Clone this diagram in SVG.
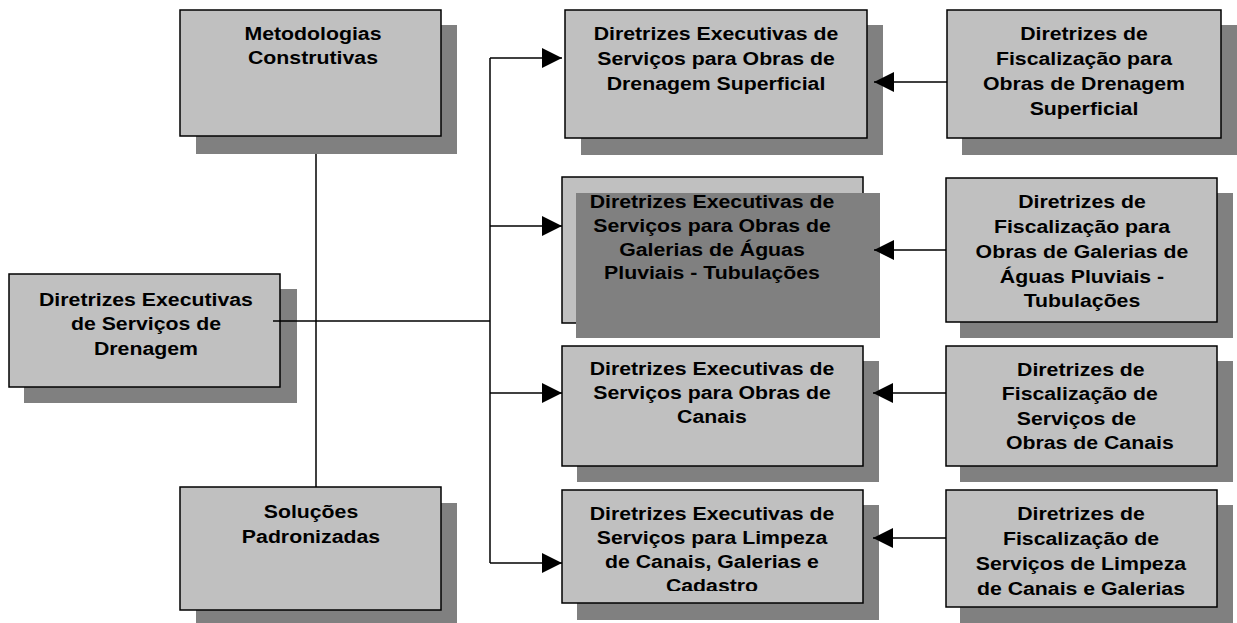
<svg xmlns="http://www.w3.org/2000/svg" width="1237" height="623" viewBox="0 0 1237 623">
<style>
.sh{fill:#808080}
.bx{fill:#c0c0c0;stroke:#000;stroke-width:1.5}
.t{font-family:"Liberation Sans",Arial,sans-serif;font-weight:bold;font-size:19px;fill:#000;text-anchor:middle}
.c{fill:none;stroke:#000;stroke-width:1.5}
</style>
<defs>
<marker id="ah" markerUnits="userSpaceOnUse" markerWidth="22" markerHeight="22" refX="20" refY="10" orient="auto">
<path d="M0,0 L20,10 L0,20 Z" fill="#000"/>
</marker>
<clipPath id="clip5"><rect x="562" y="490" width="301" height="101"/></clipPath>
</defs>
<rect width="1237" height="623" fill="#fff"/>

<g id="metodologias">
<rect class="sh" x="196" y="25" width="261" height="129"/>
<rect class="bx" x="180" y="10" width="261" height="126"/>
<text class="t" transform="matrix(1.12 0 0 1 -37.56 0)"><tspan x="313" y="40">Metodologias</tspan><tspan x="313" y="64">Construtivas</tspan></text>
</g>

<g id="solucoes">
<rect class="sh" x="196" y="503" width="261" height="120"/>
<rect class="bx" x="180" y="487" width="261" height="123"/>
<text class="t" transform="matrix(1.12 0 0 1 -37.32 0)"><tspan x="311" y="518">Soluções</tspan><tspan x="311" y="543">Padronizadas</tspan></text>
</g>

<g id="drenagem">
<rect class="sh" x="24" y="289" width="273" height="114"/>
<rect class="bx" x="9" y="274" width="271" height="113"/>
<text class="t" transform="matrix(1.12 0 0 1 -17.52 0)"><tspan x="146" y="306">Diretrizes Executivas</tspan><tspan x="146" y="330">de Serviços de</tspan><tspan x="146" y="355">Drenagem</tspan></text>
</g>

<g id="exec-superficial">
<rect class="sh" x="581" y="25" width="302" height="130"/>
<rect class="bx" x="565" y="10" width="302" height="128"/>
<text class="t" transform="matrix(1.12 0 0 1 -85.92 0)"><tspan x="716" y="40">Diretrizes Executivas de</tspan><tspan x="716" y="65">Serviços para Obras de</tspan><tspan x="716" y="90">Drenagem Superficial</tspan></text>
</g>

<g id="exec-galerias">
<rect class="bx" x="562" y="177" width="301" height="146"/>
<rect class="sh" x="576" y="193" width="304" height="145"/>
<text class="t" transform="matrix(1.12 0 0 1 -85.44 0)"><tspan x="712" y="208">Diretrizes Executivas de</tspan><tspan x="712" y="232">Serviços para Obras de</tspan><tspan x="712" y="256">Galerias de Águas</tspan><tspan x="712" y="279">Pluviais - Tubulações</tspan></text>
</g>

<g id="exec-canais">
<rect class="sh" x="577" y="361" width="302" height="121"/>
<rect class="bx" x="562" y="346" width="301" height="120"/>
<text class="t" transform="matrix(1.12 0 0 1 -85.44 0)"><tspan x="712" y="375">Diretrizes Executivas de</tspan><tspan x="712" y="399">Serviços para Obras de</tspan><tspan x="712" y="423">Canais</tspan></text>
</g>

<g id="exec-limpeza">
<rect class="sh" x="577" y="505" width="302" height="115"/>
<rect class="bx" x="562" y="490" width="301" height="113"/>
<g clip-path="url(#clip5)">
<text class="t" transform="matrix(1.12 0 0 1 -85.44 0)"><tspan x="712" y="520">Diretrizes Executivas de</tspan><tspan x="712" y="544">Serviços para Limpeza</tspan><tspan x="712" y="568">de Canais, Galerias e</tspan><tspan x="712" y="592">Cadastro</tspan></text>
</g>
</g>

<g id="fisc-superficial">
<rect class="sh" x="962" y="25" width="275" height="130"/>
<rect class="bx" x="947" y="10" width="274" height="128"/>
<text class="t" transform="matrix(1.12 0 0 1 -130.08 0)"><tspan x="1084" y="40">Diretrizes de</tspan><tspan x="1084" y="65">Fiscalização para</tspan><tspan x="1084" y="90">Obras de Drenagem</tspan><tspan x="1084" y="115">Superficial</tspan></text>
</g>

<g id="fisc-galerias">
<rect class="sh" x="960" y="193" width="273" height="145"/>
<rect class="bx" x="946" y="178" width="271" height="144"/>
<text class="t" transform="matrix(1.12 0 0 1 -129.84 0)"><tspan x="1082" y="208">Diretrizes de</tspan><tspan x="1082" y="233">Fiscalização para</tspan><tspan x="1082" y="258">Obras de Galerias de</tspan><tspan x="1082" y="283">Águas Pluviais -</tspan><tspan x="1082" y="307">Tubulações</tspan></text>
</g>

<g id="fisc-canais">
<rect class="sh" x="960" y="361" width="273" height="121"/>
<rect class="bx" x="946" y="346" width="271" height="120"/>
<text class="t" transform="matrix(1.12 0 0 1 -129.84 0)"><tspan x="1081" y="376">Diretrizes de</tspan><tspan x="1080" y="400">Fiscalização de</tspan><tspan x="1077" y="425">Serviços de</tspan><tspan x="1089" y="449">Obras de Canais</tspan></text>
</g>

<g id="fisc-limpeza">
<rect class="sh" x="960" y="505" width="273" height="118"/>
<rect class="bx" x="946" y="490" width="271" height="117"/>
<text class="t" transform="matrix(1.12 0 0 1 -129.72 0)"><tspan x="1081" y="520">Diretrizes de</tspan><tspan x="1081" y="545">Fiscalização de</tspan><tspan x="1081" y="570">Serviços de Limpeza</tspan><tspan x="1081" y="595">de Canais e Galerias</tspan></text>
</g>

<g id="connectors">
<path class="c" d="M316,154 V487"/>
<path class="c" d="M273,321 H490"/>
<path class="c" d="M490,58 V563"/>
<path class="c" d="M490,58 H562" marker-end="url(#ah)"/>
<path class="c" d="M490,226 H562" marker-end="url(#ah)"/>
<path class="c" d="M490,393 H562" marker-end="url(#ah)"/>
<path class="c" d="M490,563 H562" marker-end="url(#ah)"/>
<path class="c" d="M947,82 H874" marker-end="url(#ah)"/>
<path class="c" d="M946,250 H874" marker-end="url(#ah)"/>
<path class="c" d="M946,393 H873" marker-end="url(#ah)"/>
<path class="c" d="M946,538 H873" marker-end="url(#ah)"/>
</g>
</svg>
